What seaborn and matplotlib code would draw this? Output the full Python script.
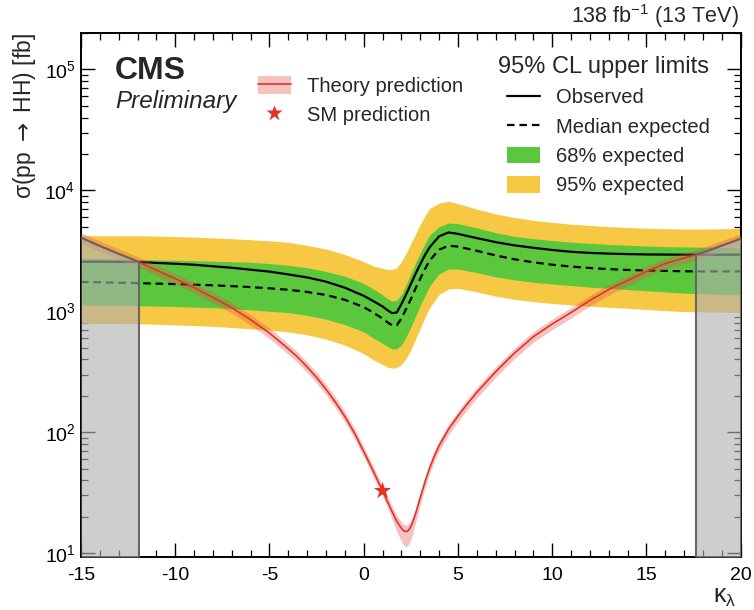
import numpy as np
import pandas as pd
import matplotlib
matplotlib.use("Agg")
import matplotlib.pyplot as plt
import seaborn as sns
from matplotlib.patches import Patch
from matplotlib.lines import Line2D
from matplotlib.ticker import MultipleLocator, LogLocator

# ---------------- data ----------------
# expected / observed limits and bands, log10(sigma / fb)
kappa = [-15, -14, -13, -12, -11, -10, -9, -8, -7, -6, -5, -4, -3, -2, -1,
         0, 0.5, 1, 1.25, 1.5, 1.75, 2, 2.25, 2.5, 2.75, 3, 3.25, 3.5, 4, 4.5, 5,
         6, 7, 8, 9, 10, 11, 12, 13, 14, 15, 16, 17, 18, 19, 20]
observed_log10 = [3.410, 3.410, 3.409, 3.408, 3.400, 3.393, 3.385, 3.372, 3.360, 3.344, 3.328, 3.305, 3.280, 3.245, 3.195,
                  3.128, 3.085, 3.040, 3.010, 2.985, 2.990, 3.060, 3.140, 3.225, 3.310, 3.390, 3.465, 3.530, 3.620, 3.652, 3.640,
                  3.605, 3.572, 3.545, 3.525, 3.507, 3.492, 3.483, 3.477, 3.473, 3.470, 3.469, 3.468, 3.468, 3.468, 3.468]
expected_log10 = [3.242, 3.240, 3.236, 3.233, 3.229, 3.225, 3.220, 3.215, 3.208, 3.200, 3.190, 3.178, 3.160, 3.135, 3.095,
                  3.035, 2.990, 2.940, 2.910, 2.885, 2.885, 2.940, 3.020, 3.100, 3.190, 3.270, 3.350, 3.420, 3.510, 3.542, 3.535,
                  3.500, 3.462, 3.430, 3.405, 3.385, 3.370, 3.358, 3.349, 3.342, 3.337, 3.334, 3.331, 3.330, 3.330, 3.330]
green_hi_log10 = [3.440, 3.436, 3.432, 3.428, 3.425, 3.422, 3.418, 3.414, 3.410, 3.405, 3.395, 3.380, 3.360, 3.330, 3.290,
                  3.230, 3.185, 3.135, 3.105, 3.085, 3.090, 3.140, 3.220, 3.310, 3.400, 3.480, 3.560, 3.630, 3.700, 3.730, 3.725,
                  3.690, 3.650, 3.620, 3.600, 3.585, 3.572, 3.562, 3.553, 3.546, 3.540, 3.535, 3.532, 3.530, 3.528, 3.526]
green_lo_log10 = [3.054, 3.050, 3.048, 3.046, 3.043, 3.040, 3.035, 3.030, 3.022, 3.012, 3.000, 2.990, 2.965, 2.935, 2.890,
                  2.830, 2.780, 2.735, 2.710, 2.690, 2.690, 2.720, 2.790, 2.870, 2.960, 3.050, 3.130, 3.210, 3.310, 3.350, 3.350,
                  3.320, 3.285, 3.260, 3.240, 3.225, 3.213, 3.200, 3.190, 3.180, 3.170, 3.160, 3.150, 3.145, 3.140, 3.137]
yellow_hi_log10 = [3.625, 3.625, 3.625, 3.625, 3.622, 3.618, 3.613, 3.607, 3.600, 3.592, 3.583, 3.570, 3.545, 3.515, 3.470,
                   3.410, 3.375, 3.355, 3.345, 3.345, 3.360, 3.410, 3.480, 3.560, 3.640, 3.720, 3.790, 3.850, 3.895, 3.910, 3.890,
                   3.845, 3.805, 3.775, 3.752, 3.735, 3.720, 3.710, 3.700, 3.693, 3.687, 3.683, 3.680, 3.680, 3.682, 3.685]
yellow_lo_log10 = [2.902, 2.900, 2.898, 2.897, 2.893, 2.888, 2.882, 2.875, 2.866, 2.855, 2.845, 2.830, 2.805, 2.770, 2.720,
                   2.650, 2.600, 2.560, 2.540, 2.530, 2.535, 2.560, 2.610, 2.680, 2.770, 2.860, 2.950, 3.030, 3.140, 3.185, 3.190,
                   3.160, 3.125, 3.100, 3.080, 3.065, 3.052, 3.042, 3.033, 3.025, 3.015, 3.005, 2.998, 2.995, 2.993, 2.990]

# theory prediction, log10(sigma / fb), with relative up / down uncertainty
theory_kappa = [-15, -14, -13, -12, -11, -10, -9, -8, -7, -6, -5, -4,
                -3.5, -3, -2.5, -2, -1.5, -1, -0.5, 0, 0.5, 1,
                1.25, 1.5, 1.75, 2, 2.125, 2.25, 2.375, 2.5, 2.625, 2.75,
                3, 3.25, 3.5, 3.75, 4, 4.5, 5, 5.5, 6,
                7, 8, 9, 10, 11, 12, 13, 14, 15, 16, 17, 18, 19, 20]
theory_log10 = [3.609, 3.540, 3.475, 3.412, 3.340, 3.270, 3.195, 3.115, 3.030, 2.930, 2.820, 2.690,
                2.620, 2.540, 2.452, 2.355, 2.248, 2.130, 1.995, 1.840, 1.680, 1.515,
                1.430, 1.345, 1.265, 1.205, 1.185, 1.178, 1.188, 1.220, 1.268, 1.325,
                1.460, 1.590, 1.705, 1.805, 1.890, 2.025, 2.135, 2.235, 2.330,
                2.500, 2.655, 2.790, 2.895, 2.990, 3.090, 3.180, 3.255, 3.330, 3.395, 3.440, 3.485, 3.543, 3.600]
theory_rel_up = ([0.10] * 22 + [0.10, 0.11, 0.12, 0.13] + [0.13, 0.13, 0.13, 0.13, 0.12, 0.12]
                 + [0.11, 0.10, 0.10, 0.10, 0.10] + [0.10] * 18)
theory_rel_down = ([0.10] * 22 + [0.11, 0.14, 0.18, 0.22] + [0.24, 0.25, 0.24, 0.22, 0.19, 0.16]
                   + [0.13, 0.11, 0.10, 0.10, 0.10] + [0.10] * 18)

sm_kappa = [1.0]
sm_xsec = [32.8]

x_ticks = [-15, -10, -5, 0, 5, 10, 15, 20]

# ---------------- build tables ----------------
df = pd.DataFrame({
    "kappa": kappa,
    "observed": np.power(10.0, observed_log10),
    "expected": np.power(10.0, expected_log10),
    "g_hi": np.power(10.0, green_hi_log10),
    "g_lo": np.power(10.0, green_lo_log10),
    "y_hi": np.power(10.0, yellow_hi_log10),
    "y_lo": np.power(10.0, yellow_lo_log10),
})
dth = pd.DataFrame({"kappa": theory_kappa, "theory": np.power(10.0, theory_log10)})
dth["th_hi"] = dth["theory"] * (1 + np.array(theory_rel_up))
dth["th_lo"] = dth["theory"] * (1 - np.array(theory_rel_down))

# ---------------- style ----------------
sns.set_theme(style="ticks")
plt.rcParams["font.family"] = ["Liberation Sans", "DejaVu Sans"]
plt.rcParams["mathtext.fontset"] = "custom"
plt.rcParams["mathtext.rm"] = "Liberation Sans"
plt.rcParams["mathtext.it"] = "Liberation Sans:italic"
plt.rcParams["mathtext.bf"] = "Liberation Sans:bold"
plt.rcParams["mathtext.sf"] = "DejaVu Sans"
plt.rcParams["axes.linewidth"] = 1.4
plt.rcParams["axes.edgecolor"] = "black"

YELLOW = "#f6c843"
GREEN = "#5ac73d"
RED = "#e0332b"
PINK = "#e8504a"

XMIN, XMAX = -15, 20
YMIN, YMAX = 9.3, 2.0e5

fig = plt.figure(figsize=(7.54, 6.10), dpi=100)
ax = fig.add_axes([81 / 754, 1 - 557 / 610, 659.7 / 754, 524 / 610])
ax.set_yscale("log")

# bands
ax.fill_between(df["kappa"], df["y_lo"], df["y_hi"], color=YELLOW, lw=0, zorder=1)
ax.fill_between(df["kappa"], df["g_lo"], df["g_hi"], color=GREEN, lw=0, zorder=2)

# limit lines
sns.lineplot(data=df, x="kappa", y="expected", ax=ax, color="black", lw=1.6,
             linestyle=(0, (3.4, 2.2)), estimator=None, sort=False, zorder=3)
sns.lineplot(data=df, x="kappa", y="observed", ax=ax, color="black", lw=1.6,
             estimator=None, sort=False, zorder=3)

# theory
ax.fill_between(dth["kappa"], dth["th_lo"], dth["th_hi"], color=PINK, alpha=0.35, lw=0, zorder=4)
sns.lineplot(data=dth, x="kappa", y="theory", ax=ax, color=RED, lw=1.2,
             estimator=None, sort=False, zorder=5)

# excluded regions (theory above observed limit)
k = np.array(kappa, dtype=float)
tk = np.array(theory_kappa, dtype=float)
th = np.array(theory_log10)
ob_on_th = np.interp(tk, k, np.array(observed_log10))
d = th - ob_on_th
crossings = []
for i in range(len(tk) - 1):
    if np.sign(d[i]) != np.sign(d[i + 1]):
        f = d[i] / (d[i] - d[i + 1])
        crossings.append(tk[i] + f * (tk[i + 1] - tk[i]))
x_left, x_right = crossings[0], crossings[-1]


def region(lo, hi):
    m = (tk > lo) & (tk < hi)
    xs = np.concatenate([[lo], tk[m], [hi]])
    ys = np.power(10.0, np.interp(xs, tk, th))
    return xs, ys


for lo, hi, edge in [(XMIN, x_left, x_left), (x_right, XMAX, x_right)]:
    xs, ys = region(lo, hi)
    ax.fill_between(xs, YMIN, ys, color="#b0b0b0", alpha=0.62, lw=0, zorder=6)
    ax.plot(xs, ys, color="#666666", lw=1.5, zorder=7)
    ye = np.power(10.0, np.interp(edge, tk, th))
    ax.plot([edge, edge], [YMIN, ye], color="#666666", lw=1.5, zorder=7)

# SM point
sns.scatterplot(x=sm_kappa, y=sm_xsec, ax=ax, marker="*", s=170, color=RED,
                edgecolor="none", zorder=8, legend=False)

# ---------------- axes ----------------
ax.set_xlim(XMIN, XMAX)
ax.set_ylim(YMIN, YMAX)
ax.set_xticks(x_ticks)
ax.set_xticklabels([str(t) for t in x_ticks])
ax.xaxis.set_minor_locator(MultipleLocator(1))
ax.yaxis.set_major_locator(LogLocator(base=10, numticks=10))
ax.yaxis.set_minor_locator(LogLocator(base=10, subs=np.arange(2, 10), numticks=20))
ax.tick_params(which="both", direction="in", top=True, right=True, labelsize=14, colors="black")
ax.tick_params(which="major", length=10, width=1.0)
ax.tick_params(which="minor", length=5, width=0.9)
ax.tick_params(axis="x", which="major", pad=7)
ax.tick_params(axis="y", which="major", pad=4)

ax.set_xlabel(r"$\mathregular{\kappa_{\lambda}}$", fontsize=18, loc="right", labelpad=1)
ax.xaxis.label.set_position((0.993, 0))
ax.set_ylabel(r"σ(pp $\mathsf{\rightarrow}$ HH) [fb]", fontsize=16.5, loc="top", labelpad=5)

ax.text(0.0515, 0.927, "CMS", transform=ax.transAxes, fontsize=23, fontweight="bold",
        ha="left", va="center")
ax.text(0.0515, 0.869, "Preliminary", transform=ax.transAxes, fontsize=17.5, fontstyle="italic",
        ha="left", va="center")
ax.text(0.997, 1.006, r"138 fb$^{-1}$ (13 TeV)", transform=ax.transAxes, fontsize=15.5,
        ha="right", va="bottom")

# legends
h_theory = (Patch(facecolor=PINK, alpha=0.35, edgecolor="none"), Line2D([], [], color=RED, lw=1.2))
h_sm = Line2D([], [], marker="*", color=RED, markersize=12, lw=0, markeredgecolor="none")
leg1 = ax.legend([h_theory, h_sm], ["Theory prediction", "SM prediction"],
                 loc="upper left", bbox_to_anchor=(0.268, 0.918), frameon=False,
                 fontsize=14.5, handlelength=1.65, handleheight=1.0, handletextpad=0.8,
                 labelspacing=0.48, borderpad=0, borderaxespad=0)
ax.add_artist(leg1)

ax.text(0.632, 0.935, "95% CL upper limits", transform=ax.transAxes, fontsize=17,
        ha="left", va="center")
handles2 = [Line2D([], [], color="black", lw=1.6),
            Line2D([], [], color="black", lw=1.6, linestyle=(0, (3.4, 2.2))),
            Patch(facecolor=GREEN, edgecolor="none"),
            Patch(facecolor=YELLOW, edgecolor="none")]
ax.legend(handles2, ["Observed", "Median expected", "68% expected", "95% expected"],
          loc="upper left", bbox_to_anchor=(0.645, 0.895), frameon=False,
          fontsize=14.5, handlelength=1.65, handleheight=0.9, handletextpad=0.8,
          labelspacing=0.5, borderpad=0, borderaxespad=0)

fig.savefig("out.png", dpi=100)
